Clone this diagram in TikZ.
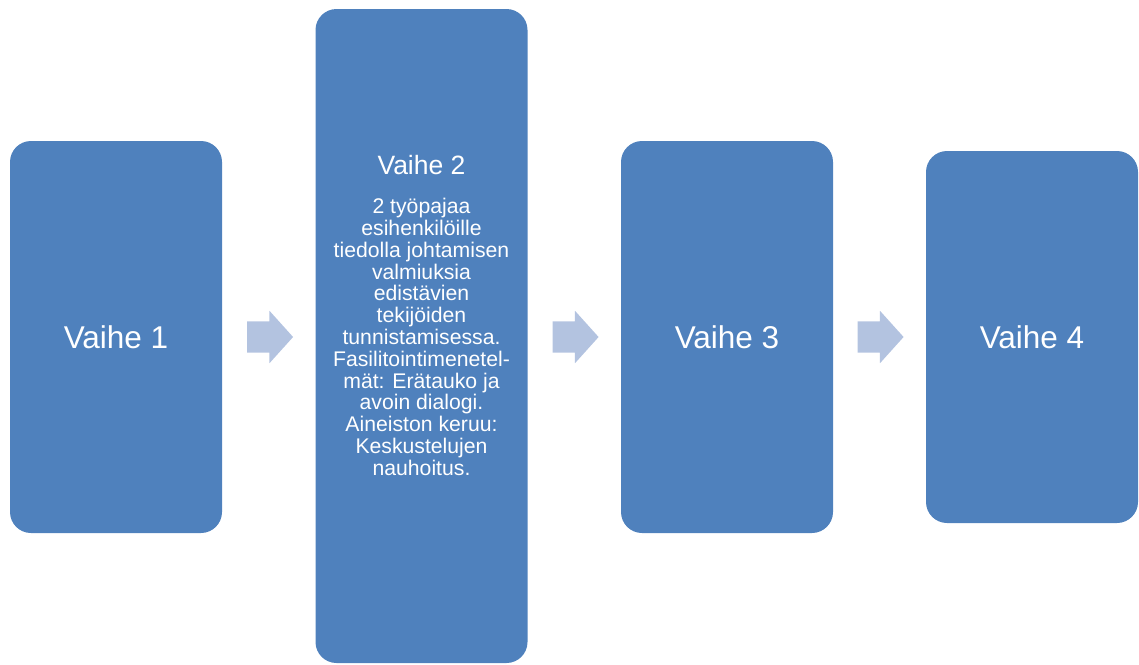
\documentclass[tikz,border=0pt]{standalone}
\usepackage{fontspec}
\setmainfont{Liberation Sans}
\usetikzlibrary{shapes.arrows}
\definecolor{stepblue}{HTML}{4F81BD}
\definecolor{arrowblue}{HTML}{B3C3E0}
\begin{document}
\begin{tikzpicture}[x=1pt,y=-1pt,
  phase/.style={fill=stepblue, draw=none, rounded corners=21pt, inner sep=0pt,
    text=white, font=\fontsize{31.5}{36}\selectfont, minimum width=212pt},
  flow/.style={single arrow, fill=arrowblue, draw=none, inner xsep=0pt,
    inner ysep=15.5pt, minimum height=46pt, single arrow head extend=10.5pt,
    single arrow tip angle=96, anchor=center},
  title/.style={text=white, font=\fontsize{26.5}{30}\selectfont, inner sep=0pt},
  body/.style={text=white, align=center, inner sep=0pt,
    font=\fontsize{21.2}{21.8}\selectfont}]
  \useasboundingbox (0,0) rectangle (1139,664);

  % the four phases
  \node[phase, minimum height=392pt] (b1) at (116,337) {Vaihe 1};
  \node[phase, minimum height=654pt] (b2) at (421.5,336) {};
  \node[phase, minimum height=392pt] (b3) at (727,337) {Vaihe 3};
  \node[phase, minimum height=372pt] (b4) at (1032,337) {Vaihe 4};

  % contents of phase 2
  \node[title] (t2) at (421.5,165) {Vaihe 2};
  \node[body] (d2) at (421.5,337) {2 työpajaa\\
    esihenkilöille\\
    tiedolla johtamisen\\
    valmiuksia\\
    edistävien\\
    tekijöiden\\
    tunnistamisessa.\\
    Fasilitointimenetel-\\
    mät: Erätauko ja\\
    avoin dialogi.\\
    Aineiston keruu:\\
    Keskustelujen\\
    nauhoitus.};

  % block arrows between the phases
  \node[flow] (a1) at (263,337) {};
  \node[flow] (a2) at (568.5,337) {};
  \node[flow] (a3) at (873.5,337) {};
\end{tikzpicture}
\end{document}
